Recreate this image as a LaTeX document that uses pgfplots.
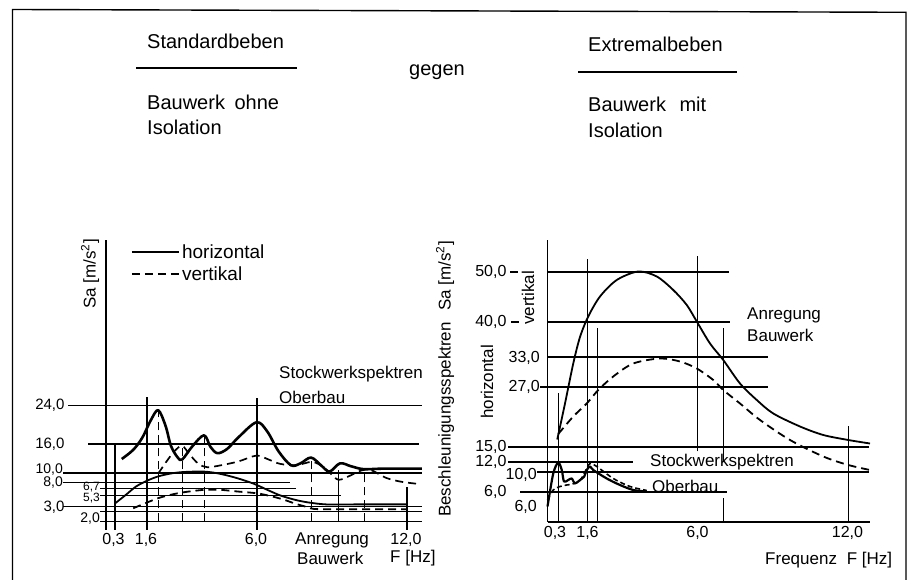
\documentclass[border=0pt]{standalone}
\usepackage{pgfplots}
\pgfplotsset{compat=1.18}
\usepackage{fontspec}
\setmainfont{Liberation Sans}
\newcommand{\fs}[1]{\fontsize{#1}{#1}\selectfont}
\begin{document}
\begin{tikzpicture}[
  lab/.style={inner sep=0pt, font=\fs{17}},
  grid/.style={line width=1.1pt, black},
  dsh/.style={dash pattern=on 8pt off 5pt}]
\begin{scope}[x=1pt,y=1pt]
\path[use as bounding box] (0,0) rectangle (909,580);
% frame
\draw[line width=1.4pt] (12.5,0) -- (12.5,570.5) -- (906,567.7) -- (906,0);
% titles
\node[lab, font=\fs{20}, anchor=base west] at (147,531) {Standardbeben};
\draw[line width=1.2pt] (136,512) -- (297,512);
\node[lab, font=\fs{20}, anchor=base west] at (147,470) {Bauwerk\hspace{0.2em} ohne};
\node[lab, font=\fs{20}, anchor=base west] at (147,445) {Isolation};
\node[lab, font=\fs{20}, anchor=base west] at (409,504) {gegen};
\node[lab, font=\fs{20}, anchor=base west] at (588,528) {Extremalbeben};
\draw[line width=1.2pt] (578,508) -- (737,508);
\node[lab, font=\fs{20}, anchor=base west] at (588,468) {Bauwerk\hspace{0.4em} mit};
\node[lab, font=\fs{20}, anchor=base west] at (588,442) {Isolation};
\end{scope}

% ---------------- left chart ----------------
\begin{axis}[at={(106pt,58.7pt)}, anchor=origin, scale only axis,
  width=316pt, height=281.1pt, xmin=0, xmax=12.64, ymin=0, ymax=58.2,
  clip=false, axis x line*=bottom, axis y line*=left,
  axis line style={line width=1.1pt,-},
  xtick={0.3,1.6,6,12}, ytick={3,16,24}, major tick length=0pt,
  ticklabel style={font=\fs{15}},
  xticklabel style={font=\fs{16}, yshift=-8pt}, yticklabel style={xshift=-38pt},
  /pgf/number format/fixed, /pgf/number format/fixed zerofill,
  /pgf/number format/precision=1, /pgf/number format/use comma,
  /pgf/number format/assume math mode=true,
  legend style={at={(axis cs:0.85,58.2)}, anchor=north west, draw=none, fill=none,
    font=\fs{19}, row sep=3pt, cells={anchor=west}},
  legend image code/.code={\draw[#1] (0pt,0pt) -- (47pt,0pt);},
  every axis plot/.append style={black, line join=round}]
% grid lines
\draw[grid] (-1.52,24) -- (12.64,24);
\draw[grid] (-0.72,16) -- (12.52,16);
\draw[grid] (-1.72,10) -- (12.64,10);
\draw[grid] (-1.72,8) -- (7.36,8);
\draw[grid] (-0.24,6.7) -- (7.6,6.7);
\draw[grid] (-0.24,5.3) -- (9.4,5.3);
\draw[grid] (-1.72,3) -- (12.64,3);
\draw[grid] (-0.24,2) -- (12.64,2);
\draw[grid] (-0.24,0) -- (0,0);
\draw[grid] (0,0) -- (0,-1.8);
\draw[grid] (0.36,-1.8) -- (0.36,16.2);
\draw[grid] (1.64,-1.8) -- (1.64,25.8);
\draw[grid] (6.04,-1.8) -- (6.04,25.5);
\draw[grid] (12.04,-1.8) -- (12.04,7.1);
\draw[grid] (9.3,0) -- (9.3,10.6);
\draw[grid,dsh] (2.09,0) -- (2.09,23);
\draw[grid,dsh] (3.07,0) -- (3.07,15.6);
\draw[grid,dsh] (3.94,0) -- (3.94,17.8);
\draw[grid,dsh] (8.22,0) -- (8.22,13.2);
\draw[grid,dsh] (10.33,0) -- (10.33,10.8);
% Stockwerkspektren horizontal
\addplot[line width=2.6pt, smooth, tension=0.55] coordinates {
(0.63,12.9) (1.09,14.8) (1.45,17.3) (1.80,21.0) (2.09,23.0) (2.38,19.8)
(2.60,15.6) (2.87,13.2) (3.05,12.8) (3.45,15.5) (3.92,17.8) (4.18,15.4)
(4.46,14.1) (4.85,15.0) (5.30,17.4) (6.02,20.5) (6.45,18.6) (6.90,14.5)
(7.40,11.6) (7.78,12.0) (8.20,13.2) (8.60,11.6) (8.94,10.3) (9.36,12.0)
(9.80,11.4) (10.30,10.8) (11.10,10.9) (12.63,10.9)};
\addlegendentry{horizontal}
% Stockwerkspektren vertikal
\addplot[line width=1.7pt, dsh, smooth, tension=0.55] coordinates {
(2.09,9.9) (2.45,12.6) (2.75,14.6) (3.05,15.6) (3.35,13.8) (3.70,11.9)
(4.05,11.2) (4.60,11.6) (5.30,12.4) (6.02,13.6) (6.50,12.8) (6.96,11.9)
(7.60,11.6) (8.25,12.3) (8.70,11.2) (9.00,9.8) (9.30,8.6) (9.70,9.3)
(10.2,10.5) (10.6,10.6) (11.2,9.0) (11.8,8.2) (12.56,7.7)};
\addlegendentry{vertikal}
% Anregung horizontal
\addplot[line width=1.8pt, smooth, forget plot] coordinates {
(0.36,3.7) (0.80,5.5) (1.20,7.2) (1.64,8.4) (2.09,9.3) (2.60,9.9)
(3.09,10.2) (3.90,10.3) (4.50,9.9) (5.20,9.0) (5.90,7.8) (6.50,6.4)
(7.00,5.3) (7.60,4.4) (8.10,3.9) (8.80,3.5) (10.0,3.5) (12.03,3.5)};
% Anregung vertikal
\addplot[line width=1.8pt, dsh, smooth, forget plot] coordinates {
(1.09,2.7) (1.60,3.8) (2.09,4.8) (2.60,5.5) (3.09,6.0) (3.90,6.5)
(4.60,6.5) (5.20,6.2) (6.03,5.8) (6.60,5.2) (7.10,4.5) (7.60,3.6)
(8.10,2.9) (8.60,2.5) (12.03,2.5)};
\end{axis}

% ---------------- right chart ----------------
\begin{axis}[at={(547.5pt,58pt)}, anchor=origin, scale only axis,
  width=322.5pt, height=282pt, xmin=0, xmax=12.9, ymin=0, ymax=56.4,
  clip=false, axis x line*=bottom, axis y line*=left,
  axis line style={line width=1.1pt,-},
  xtick={0.3,1.6,6,12}, ytick={6,12,15,40,50}, major tick length=0pt,
  ticklabel style={font=\fs{16}},
  xticklabel style={yshift=-1pt}, yticklabel style={xshift=-37.5pt},
  /pgf/number format/fixed, /pgf/number format/fixed zerofill,
  /pgf/number format/precision=1, /pgf/number format/use comma,
  /pgf/number format/assume math mode=true,
  every axis plot/.append style={black, line join=round}]
\draw[grid] (0,50) -- (7.24,50);
\draw[grid] (-1.5,50) -- (-1.2,50);
\draw[grid] (0,40) -- (7.3,40);
\draw[grid] (-1.45,40) -- (-1.15,40);
\draw[grid] (0,33) -- (8.8,33);
\draw[grid] (-0.29,27) -- (8.8,27);
\draw[grid] (-1.58,15) -- (12.84,15);
\draw[grid] (-1.58,12) -- (3.42,12);
\draw[grid] (-0.42,10) -- (12.84,10);
\draw[grid] (-1.1,6) -- (7.18,6);
\draw[grid] (0.43,0) -- (0.43,25.8);
\draw[grid] (1.6,0) -- (1.6,52.6);
\draw[grid] (2.0,0) -- (2.0,38.8);
\draw[grid] (6.0,14.1) -- (6.0,53.1);
\draw[grid] (7.03,12.1) -- (7.03,38.8);
\draw[grid] (7.03,0) -- (7.03,4.8);
\draw[grid] (12.03,0) -- (12.03,19.1);
% Anregung horizontal
\addplot[line width=1.8pt, smooth] coordinates {
(0.39,16.5) (0.70,23.7) (1.03,31.7) (1.30,37.0) (1.63,41.1) (2.10,45.1)
(2.77,48.4) (3.63,50.1) (4.37,49.1) (5.03,46.4) (5.57,43.4) (5.97,40.1)
(6.50,35.7) (7.03,32.4) (7.70,27.7) (8.37,24.4) (9.03,21.7) (10.1,19.1)
(11.03,17.4) (12.03,16.4) (12.9,15.7)};
% Anregung vertikal
\addplot[line width=1.8pt, dsh, smooth] coordinates {
(0.43,17.6) (1.03,21.1) (1.57,23.7) (2.03,26.4) (2.63,29.1) (3.43,31.7)
(4.50,32.7) (5.30,32.1) (5.97,30.7) (6.63,28.4) (7.03,26.4) (7.70,23.7)
(8.50,20.4) (9.70,16.4) (11.03,13.1) (12.03,11.4) (12.9,10.4)};
% Stockwerkspektren horizontal
\addplot[line width=2.2pt, smooth] coordinates {
(0.0,3.1) (0.23,9.7) (0.43,11.9) (0.57,10.4) (0.66,8.1) (0.83,8.4)
(0.97,8.7) (1.10,7.7) (1.30,8.4) (1.47,9.1) (1.57,10.4) (1.70,11.1)
(1.83,10.4) (2.37,8.7) (2.90,7.4) (3.43,6.4) (3.97,6.1)};
% Stockwerkspektren vertikal
\addplot[line width=1.6pt, dash pattern=on 5pt off 3pt, smooth] coordinates {
(0.0,4.4) (0.23,6.4) (0.50,7.1) (0.77,7.4) (1.0,7.6) (1.3,8.3)
(1.57,10.7) (1.70,11.7) (1.97,11.1) (2.63,8.7) (3.30,7.1) (3.97,6.3)};
\end{axis}

\begin{scope}[x=1pt,y=1pt]
% labels left chart
\node[lab, anchor=west] at (279,206) {Stockwerkspektren};
\node[lab, anchor=west] at (279,183) {Oberbau};
\node[lab, anchor=west] at (295,40) {Anregung};
\node[lab, anchor=west] at (297,22) {Bauwerk};
\node[lab, anchor=west] at (390,22) {F [Hz]};
\node[lab, rotate=90] at (90,306) {Sa [m/s\textsuperscript{2}]};
\node[lab, anchor=east, font=\fs{14}] at (63,110) {10,0};
\node[lab, anchor=east, font=\fs{14}] at (63,97) {8,0};
\node[lab, anchor=east, font=\fs{12}] at (100,93) {6,7};
\node[lab, anchor=east, font=\fs{12}] at (100,81.5) {5,3};
\node[lab, anchor=east, font=\fs{14}] at (100,61) {2,0};
% labels right chart
\node[lab, anchor=west] at (650,118) {Stockwerkspektren};
\node[lab, anchor=west] at (652,94) {Oberbau};
\node[lab, anchor=west] at (747,265) {Anregung};
\node[lab, anchor=west] at (747,245) {Bauwerk};
\node[lab, anchor=west] at (765,20) {Frequenz\hspace{0.3em} F [Hz]};
\node[lab, rotate=90] at (528,282) {vertikal};
\node[lab, rotate=90] at (487,198) {horizontal};
\node[lab, rotate=90] at (445,201) {Beschleunigungsspektren\hspace{0.4em} Sa [m/s\textsuperscript{2}]};
\node[lab, anchor=east, font=\fs{16}] at (540,222) {33,0};
\node[lab, anchor=east, font=\fs{16}] at (540,193) {27,0};
\node[lab, anchor=east, font=\fs{16}] at (537,105) {10,0};
\node[lab, anchor=east, font=\fs{16}] at (537,73) {6,0};
\end{scope}
\end{tikzpicture}
\end{document}
